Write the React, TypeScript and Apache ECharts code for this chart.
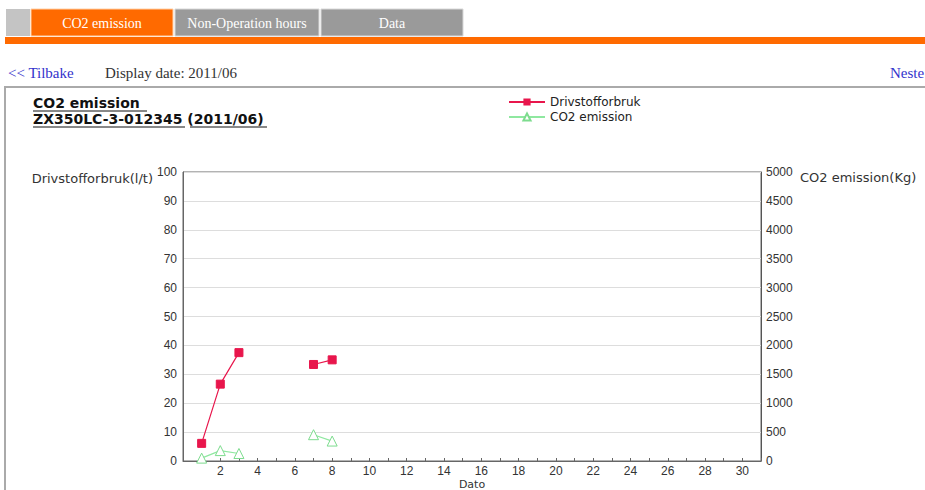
import React, { useEffect, useRef } from "react";
import * as echarts from "echarts";

const days = [1, 2, 3, 4, 5, 6, 7, 8];
const fuel: (number | null)[] = [6.1, 26.6, 37.5, null, null, null, 33.4, 35.0];
const co2: (number | null)[] = [50, 180, 130, null, null, null, 455, 345];
const tabs = ["CO2 emission", "Non-Operation hours", "Data"];
const leftAxisName = "Drivstofforbruk(l/t)";
const rightAxisName = "CO2 emission(Kg)";
const xAxisName = "Dato";
const seriesNames = ["Drivstofforbruk", "CO2 emission"];

const RED = "#e8164c";
const GREEN = "#8fe8a0";

export default function App() {
  const ref = useRef<HTMLDivElement>(null);
  useEffect(() => {
    document.body.style.margin = "0";
    const chart = echarts.init(ref.current!, null, { renderer: "svg" });
    const sans = "DejaVu Sans";
    const serif = "Liberation Serif";
    const tabX = [31, 175, 321];
    const tabW = [142, 144, 142];
    chart.setOption({
      animation: false,
      backgroundColor: "#ffffff",
      grid: {
        left: 183,
        right: 164,
        top: 172,
        bottom: 29,
        show: true,
        borderColor: "#666",
        borderWidth: 1,
        outerBoundsMode: "none",
        containLabel: false,
      },
      legend: {
        orient: "vertical",
        left: 503,
        top: 91,
        itemWidth: 36,
        itemHeight: 9,
        itemGap: 3,
        textStyle: { fontFamily: sans, fontSize: 12, color: "#222" },
        data: seriesNames,
      },
      xAxis: {
        type: "value",
        min: 0,
        max: 31,
        interval: 1,
        axisLine: { lineStyle: { color: "#666" } },
        axisTick: { inside: true, length: 3, lineStyle: { color: "#666" } },
        splitLine: { show: false },
        axisLabel: {
          fontFamily: "Liberation Sans",
          fontSize: 12,
          lineHeight: 12,
          color: "#333",
          margin: 4,
          formatter: (v: number) => (v > 0 && v < 31 && v % 2 === 0 ? String(v) : ""),
        },
      },
      yAxis: [
        {
          type: "value",
          min: 0,
          max: 100,
          interval: 10,
          position: "left",
          axisLine: { show: true, lineStyle: { color: "#666" } },
          axisTick: { show: false },
          splitLine: { show: true, lineStyle: { color: "#dddddd" } },
          axisLabel: { fontFamily: "Liberation Sans", fontSize: 12, color: "#333", margin: 6 },
        },
        {
          type: "value",
          min: 0,
          max: 5000,
          interval: 500,
          position: "right",
          axisLine: { show: true, lineStyle: { color: "#555" } },
          axisTick: { show: false },
          splitLine: { show: false },
          axisLabel: {
            fontFamily: "Liberation Sans",
            fontSize: 12,
            color: "#333",
            margin: 5,
            formatter: (v: number) => String(v),
          },
        },
      ],
      series: [
        {
          name: seriesNames[0],
          type: "line",
          yAxisIndex: 0,
          data: days.map((d, i) => [d, fuel[i] === null ? "-" : fuel[i]]),
          symbol: "rect",
          symbolSize: 8,
          lineStyle: { color: RED, width: 1.2 },
          itemStyle: { color: RED, borderColor: RED },
          connectNulls: false,
        },
        {
          name: seriesNames[1],
          type: "line",
          yAxisIndex: 1,
          data: days.map((d, i) => [d, co2[i] === null ? "-" : co2[i]]),
          symbol: "triangle",
          symbolSize: 10,
          lineStyle: { color: GREEN, width: 1.2 },
          itemStyle: { color: "#ffffff", borderColor: "#7ddc8e", borderWidth: 1 },
          connectNulls: false,
        },
      ],
      graphic: [
        // tab bar
        { type: "rect", shape: { x: 6, y: 9, width: 24, height: 27 }, style: { fill: "#c4c4c4" } },
        ...tabs.map((t, i) => ({
          type: "rect",
          shape: { x: tabX[i], y: 9, width: tabW[i], height: 27 },
          style: {
            fill: i === 0 ? "#ff6a00" : "#9a9a9a",
            stroke: i === 0 ? "#ffd0a8" : "#d8d8d8",
            lineWidth: 1,
          },
        })),
        ...tabs.map((t, i) => ({
          type: "text",
          x: tabX[i] + tabW[i] / 2,
          y: 23,
          style: {
            text: t,
            fill: "#ffffff",
            font: `14px "${serif}"`,
            textAlign: "center",
            textVerticalAlign: "middle",
          },
        })),
        { type: "rect", shape: { x: 5, y: 37, width: 925, height: 7 }, style: { fill: "#ff6a00" } },
        // nav line
        {
          type: "text",
          x: 8,
          y: 73,
          style: { text: "<< Tilbake", fill: "#3333cc", font: `15px "${serif}"`, textVerticalAlign: "middle" },
        },
        {
          type: "text",
          x: 105,
          y: 73,
          style: { text: "Display date: 2011/06", fill: "#333333", font: `15px "${serif}"`, textVerticalAlign: "middle" },
        },
        {
          type: "text",
          x: 890,
          y: 73,
          style: { text: "Neste", fill: "#3333cc", font: `15px "${serif}"`, textVerticalAlign: "middle" },
        },
        // chart box
        {
          type: "rect",
          shape: { x: 5, y: 87, width: 1000, height: 500 },
          style: { fill: "none", stroke: "#aaaaaa", lineWidth: 2 },
          silent: true,
        },
        // title
        {
          type: "text",
          x: 33,
          y: 103,
          style: { text: "CO2 emission", fill: "#111", font: `bold 14px "${sans}"`, textVerticalAlign: "middle" },
        },
        { type: "line", shape: { x1: 33, y1: 111, x2: 147, y2: 111 }, style: { stroke: "#111", lineWidth: 1 } },
        {
          type: "text",
          x: 33,
          y: 119,
          style: {
            text: "ZX350LC-3-012345 (2011/06)",
            fill: "#111",
            font: `bold 14px "${sans}"`,
            textVerticalAlign: "middle",
          },
        },
        { type: "line", shape: { x1: 33, y1: 127, x2: 185, y2: 127 }, style: { stroke: "#111", lineWidth: 1 } },
        { type: "line", shape: { x1: 190, y1: 127, x2: 267, y2: 127 }, style: { stroke: "#111", lineWidth: 1 } },
        // axis names
        {
          type: "text",
          x: 153,
          y: 178,
          style: {
            text: leftAxisName,
            fill: "#333",
            font: `13px "${sans}"`,
            textAlign: "right",
            textVerticalAlign: "middle",
          },
        },
        {
          type: "text",
          x: 800,
          y: 177,
          style: { text: rightAxisName, fill: "#333", font: `13px "${sans}"`, textVerticalAlign: "middle" },
        },
        {
          type: "text",
          x: 472,
          y: 484,
          style: {
            text: xAxisName,
            fill: "#333",
            font: `11px "${sans}"`,
            lineHeight: 11,
            textAlign: "center",
            textVerticalAlign: "middle",
          },
        },
      ],
    });
    return () => chart.dispose();
  }, []);
  return <div ref={ref} style={{ position: "fixed", left: 0, top: 0, width: 925, height: 490 }} />;
}
